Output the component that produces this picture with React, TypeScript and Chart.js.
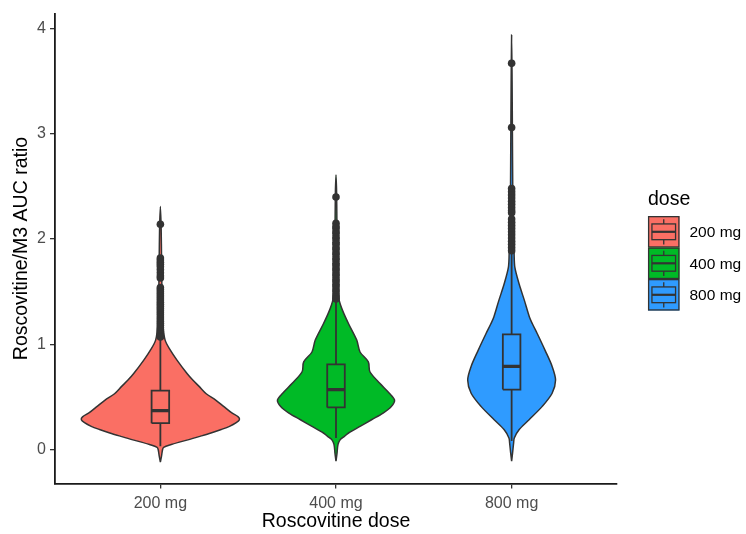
import React, { useEffect, useRef } from 'react';
import { Chart, registerables } from 'chart.js';

Chart.register(...registerables);

// ---------- data ----------
const CATEGORIES = ['200 mg', '400 mg', '800 mg'];
const Y_TICKS = [0, 1, 2, 3, 4];
const X_TITLE = 'Roscovitine dose';
const Y_TITLE = 'Roscovitine/M3 AUC ratio';
const LEGEND_TITLE = 'dose';

// violin density profiles (value level, relative density; peak of 200 mg = 1)
const LEVELS_200 = [-0.12, -0.06, 0.0, 0.02, 0.047, 0.07, 0.094, 0.125, 0.157, 0.19, 0.22, 0.255, 0.283, 0.31, 0.35, 0.41, 0.47, 0.53, 0.6, 0.66, 0.72, 0.85, 0.94, 1.04, 1.2, 1.5, 1.8, 2.1, 2.31];
const DENSITY_200 = [0, 0.015, 0.028, 0.041, 0.1375, 0.24, 0.36, 0.5, 0.64, 0.77, 0.875, 0.96, 1.0, 0.985, 0.9, 0.8, 0.7, 0.58, 0.49, 0.41, 0.34, 0.21, 0.13, 0.06, 0.031, 0.02, 0.015, 0.01, 0];

const LEVELS_400 = [-0.11, -0.04, 0.047, 0.094, 0.125, 0.157, 0.22, 0.283, 0.346, 0.409, 0.47, 0.535, 0.629, 0.739, 0.833, 0.927, 1.04, 1.195, 1.32, 1.43, 1.6, 1.9, 2.2, 2.45, 2.61];
const DENSITY_400 = [0, 0.0125, 0.025, 0.054, 0.106, 0.159, 0.304, 0.45, 0.596, 0.7, 0.741, 0.675, 0.554, 0.429, 0.409, 0.304, 0.2625, 0.159, 0.084, 0.0375, 0.025, 0.016, 0.011, 0.0075, 0];

const LEVELS_800 = [-0.11, -0.03, 0.06, 0.11, 0.19, 0.283, 0.41, 0.535, 0.66, 0.79, 0.94, 1.1, 1.195, 1.26, 1.415, 1.57, 1.73, 1.87, 2.1, 2.5, 3.0, 3.5, 3.94];
const DENSITY_800 = [0, 0.0125, 0.025, 0.034, 0.096, 0.221, 0.3875, 0.5125, 0.556, 0.5125, 0.425, 0.325, 0.2625, 0.225, 0.1625, 0.096, 0.041, 0.031, 0.02, 0.014, 0.01, 0.006, 0];

// boxplot stats: [lower whisker, Q1, median, Q3, upper whisker]
const BOX_200 = [0.03, 0.25, 0.37, 0.56, 1.05];
const BOX_400 = [0.11, 0.4, 0.57, 0.81, 1.42];
const BOX_800 = [0.08, 0.57, 0.79, 1.095, 1.87];

const OUTLIERS_200 = [2.14, 1.82, 1.8, 1.78, 1.76, 1.74, 1.71, 1.68, 1.65, 1.63, 1.54, 1.52, 1.5, 1.48, 1.46, 1.44, 1.42, 1.4, 1.38, 1.36, 1.34, 1.32, 1.3, 1.28, 1.26, 1.24, 1.22, 1.2, 1.18, 1.16, 1.14, 1.12, 1.1, 1.08, 1.07];
const OUTLIERS_400 = [2.4, 2.15, 2.12, 2.1, 2.07, 2.05, 2.02, 2.0, 1.97, 1.95, 1.92, 1.9, 1.87, 1.85, 1.82, 1.8, 1.77, 1.75, 1.72, 1.7, 1.67, 1.65, 1.62, 1.6, 1.57, 1.55, 1.52, 1.5, 1.47, 1.45, 1.43];
const OUTLIERS_800 = [3.67, 3.06, 2.48, 2.45, 2.42, 2.39, 2.36, 2.33, 2.3, 2.27, 2.25, 2.19, 2.16, 2.13, 2.1, 2.07, 2.04, 2.01, 1.98, 1.95, 1.92, 1.89];

const FILL_COLORS = ['#FA6F64', '#00BA26', '#2F9BFF'];

// ---------- styling constants ----------
const FONT = "'Liberation Sans', Arial, Helvetica, sans-serif";
const INK = '#333333';
const VIOLIN_HALF = 0.45; // ggplot violin width 0.9
const BOX_HALF = 0.05; // boxplot width 0.1

const GROUPS = [
  { levels: LEVELS_200, density: DENSITY_200, box: BOX_200, outliers: OUTLIERS_200 },
  { levels: LEVELS_400, density: DENSITY_400, box: BOX_400, outliers: OUTLIERS_400 },
  { levels: LEVELS_800, density: DENSITY_800, box: BOX_800, outliers: OUTLIERS_800 },
];

const allLevels = GROUPS.flatMap((g) => g.levels);
const dataMin = Math.min(...allLevels);
const dataMax = Math.max(...allLevels);
const span = dataMax - dataMin;
const Y_MIN = dataMin - 0.05 * span;
const Y_MAX = dataMax + 0.05 * span;

function buildDatasets() {
  const sets: any[] = [];
  GROUPS.forEach((g, i) => {
    const c = i + 1;
    const right = g.levels.map((v, k) => ({ x: c + g.density[k] * VIOLIN_HALF, y: v }));
    const left = g.levels.map((v, k) => ({ x: c - g.density[k] * VIOLIN_HALF, y: v })).reverse();
    const poly = [...right, ...left.slice(1), right[0]];
    sets.push({
      label: CATEGORIES[i] + ' violin',
      data: poly,
      showLine: true,
      fill: 'shape',
      backgroundColor: FILL_COLORS[i],
      borderColor: INK,
      borderWidth: 1.5,
      pointRadius: 0,
      tension: 0.3,
      order: 10,
    });
    const [lo, q1, med, q3, hi] = g.box;
    sets.push({
      label: CATEGORIES[i] + ' lower whisker',
      data: [{ x: c, y: lo }, { x: c, y: q1 }],
      showLine: true, borderColor: INK, borderWidth: 1.8, pointRadius: 0, order: 5,
    });
    sets.push({
      label: CATEGORIES[i] + ' upper whisker',
      data: [{ x: c, y: q3 }, { x: c, y: hi }],
      showLine: true, borderColor: INK, borderWidth: 1.8, pointRadius: 0, order: 5,
    });
    sets.push({
      label: CATEGORIES[i] + ' box',
      data: [
        { x: c - BOX_HALF, y: q1 }, { x: c + BOX_HALF, y: q1 },
        { x: c + BOX_HALF, y: q3 }, { x: c - BOX_HALF, y: q3 }, { x: c - BOX_HALF, y: q1 },
      ],
      showLine: true, borderColor: INK, borderWidth: 1.8, pointRadius: 0, order: 4,
    });
    sets.push({
      label: CATEGORIES[i] + ' median',
      data: [{ x: c - BOX_HALF, y: med }, { x: c + BOX_HALF, y: med }],
      showLine: true, borderColor: INK, borderWidth: 3.2, pointRadius: 0, order: 3,
      borderCapStyle: 'butt',
    });
    sets.push({
      label: CATEGORIES[i] + ' outliers',
      data: g.outliers.map((v) => ({ x: c, y: v })),
      showLine: false,
      pointRadius: 3.8,
      pointBackgroundColor: INK,
      pointBorderWidth: 0,
      order: 1,
    });
  });
  return sets;
}

const legendPlugin = {
  id: 'doseLegend',
  afterDraw(chart: any) {
    const { ctx, chartArea } = chart;
    const x0 = chartArea.right + 31;
    const key = 31.5;
    const midY = (chartArea.top + chartArea.bottom) / 2;
    const keysTop = midY - 32.5;
    ctx.save();
    ctx.textBaseline = 'alphabetic';
    ctx.textAlign = 'left';
    ctx.fillStyle = '#000';
    ctx.font = `19.5px ${FONT}`;
    ctx.fillText(LEGEND_TITLE, x0, keysTop - 11.3);
    CATEGORIES.forEach((cat, i) => {
      const y = keysTop + i * key;
      ctx.fillStyle = FILL_COLORS[i];
      ctx.fillRect(x0, y, key, key);
      ctx.strokeStyle = INK;
      ctx.lineWidth = 1.3;
      ctx.strokeRect(x0 + 0.6, y + 0.6, key - 1.2, key - 1.2);
      // boxplot glyph
      ctx.lineWidth = 1.3;
      ctx.beginPath();
      ctx.moveTo(x0 + key / 2, y + key * 0.1);
      ctx.lineTo(x0 + key / 2, y + key * 0.25);
      ctx.moveTo(x0 + key / 2, y + key * 0.75);
      ctx.lineTo(x0 + key / 2, y + key * 0.9);
      ctx.stroke();
      ctx.strokeRect(x0 + key * 0.125, y + key * 0.25, key * 0.75, key * 0.5);
      ctx.lineWidth = 2.2;
      ctx.beginPath();
      ctx.moveTo(x0 + key * 0.125, y + key * 0.5);
      ctx.lineTo(x0 + key * 0.875, y + key * 0.5);
      ctx.stroke();
      ctx.fillStyle = '#000';
      ctx.font = `15.5px ${FONT}`;
      ctx.fillText(cat, x0 + key + 10, y + key / 2 + 5.6);
    });
    ctx.restore();
  },
};

export default function App() {
  const ref = useRef<HTMLCanvasElement | null>(null);
  useEffect(() => {
    if (!ref.current) return;
    Chart.defaults.font.family = FONT;
    const chart = new Chart(ref.current, {
      type: 'scatter',
      data: { datasets: buildDatasets() },
      options: {
        animation: false,
        responsive: false,
        devicePixelRatio: 1,
        events: [],
        layout: { padding: { left: 0, right: 129, top: 12, bottom: 0 } },
        plugins: { legend: { display: false }, tooltip: { enabled: false } },
        scales: {
          x: {
            type: 'linear',
            min: 0.4,
            max: 3.6,
            afterBuildTicks: (s: any) => {
              s.ticks = CATEGORIES.map((_, i) => ({ value: i + 1 }));
            },
            afterFit: (s: any) => {
              s.height = 50.5;
            },
            ticks: {
              callback: (_v: any, i: number) => CATEGORIES[i],
              color: '#4d4d4d',
              font: { size: 16 },
              padding: 5,
              autoSkip: false,
              maxRotation: 0,
            },
            grid: { drawOnChartArea: false, drawTicks: true, tickLength: 5, color: INK, lineWidth: 1.3 },
            border: { display: true, color: '#1a1a1a', width: 1.8 },
            title: { display: true, text: X_TITLE, color: '#000', font: { size: 19.5 }, padding: { top: 0, bottom: 1 } },
          },
          y: {
            type: 'linear',
            min: Y_MIN,
            max: Y_MAX,
            afterBuildTicks: (s: any) => {
              s.ticks = Y_TICKS.map((v) => ({ value: v }));
            },
            afterFit: (s: any) => {
              s.width = 55;
            },
            ticks: {
              callback: (v: any) => String(v),
              color: '#4d4d4d',
              font: { size: 16 },
              padding: 4,
            },
            grid: { drawOnChartArea: false, drawTicks: true, tickLength: 5, color: INK, lineWidth: 1.3 },
            border: { display: true, color: '#1a1a1a', width: 1.8 },
            title: { display: true, text: Y_TITLE, color: '#000', font: { size: 19.5 }, padding: { top: 10, bottom: 0 } },
          },
        },
      },
      plugins: [legendPlugin],
    } as any);
    return () => chart.destroy();
  }, []);
  return (
    <div style={{ position: 'fixed', left: 0, top: 0, width: 746, height: 534, background: '#fff' }}>
      <canvas ref={ref} width={746} height={534} style={{ display: 'block' }} />
    </div>
  );
}
